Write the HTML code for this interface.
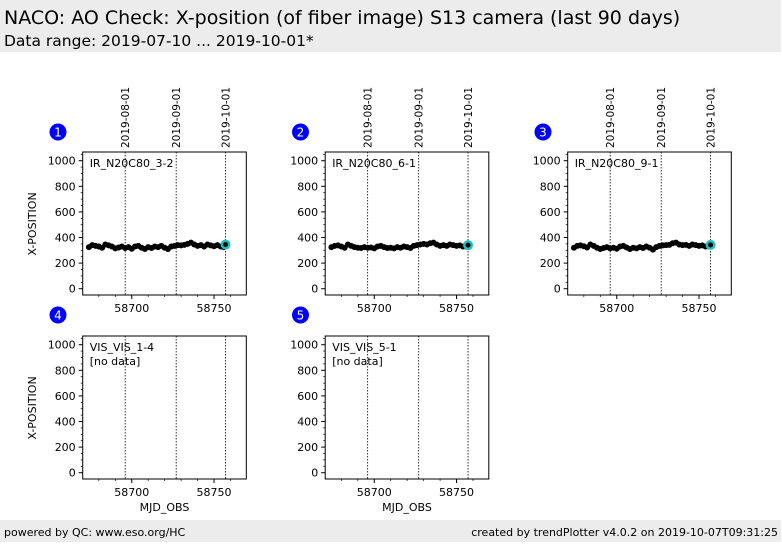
<!DOCTYPE html>
<html><head><meta charset="utf-8">
<style>
body{margin:0;background:#fff;width:782px;height:542px;overflow:hidden;font-family:"DejaVu Sans","Liberation Sans",sans-serif;}
svg text{font-family:"DejaVu Sans","Liberation Sans",sans-serif;}
</style></head>
<body>
<svg id="c" width="782" height="542">
<rect x="0" y="0" width="781" height="52" fill="#ececec"/>
<text x="4" y="24" font-size="19" fill="#000">NACO: AO Check: X-position (of fiber image) S13 camera (last 90 days)</text>
<text x="4" y="46" font-size="15.5" fill="#000">Data range: 2019-07-10 ... 2019-10-01*</text>
<rect x="0" y="520" width="781" height="22" fill="#ececec"/>
<text x="4" y="536" font-size="11">powered by QC: www.eso.org/HC</text>
<text x="778" y="536" font-size="11" text-anchor="end">created by trendPlotter v4.0.2 on 2019-10-07T09:31:25</text>
<g id="panels"></g>
</svg>
<script>
const xTicks=[58700,58750];
const yTicks=[0,200,400,600,800,1000];
const dateMarkers=[58696,58727,58757];
const dateLabels=["2019-08-01","2019-09-01","2019-10-01"];
const panelLabels=["IR_N20C80_3-2","IR_N20C80_6-1","IR_N20C80_9-1","VIS_VIS_1-4","VIS_VIS_5-1"];
const mjd=[58674,58676,58678,58680,58682,58684,58686,58688,58690,58692,58694,58696,58698,58700,58702,58704,58706,58708,58710,58712,58714,58716,58718,58720,58722,58724,58726,58728,58730,58732,58734,58736,58738,58740,58742,58744,58746,58748,58750,58752,58754,58756];
const series1=[325,340,335,330,320,345,338,330,315,322,330,318,325,312,330,335,320,310,325,318,330,325,335,320,310,330,335,340,338,342,350,360,345,335,340,330,345,338,332,340,330,325];
const series2=[325,335,338,330,320,345,335,325,320,318,325,320,322,315,330,335,325,318,320,315,325,320,330,325,318,335,340,345,350,345,355,360,345,335,340,335,345,340,335,338,330,328];
const series3=[320,335,338,332,322,345,335,320,310,318,325,315,320,312,330,335,322,310,320,315,325,318,330,320,305,325,335,338,340,342,355,360,345,340,342,335,345,340,335,338,330,330];
const lastMjd=[58757,58757,58757];
const lastVal=[345,340,342];
const allSeries=[series1,series2,series3,null,null];

const NS="http://www.w3.org/2000/svg";
const root=document.getElementById('panels');
function mk(tag,attrs,parent){const e=document.createElementNS(NS,tag);for(const k in attrs)e.setAttribute(k,attrs[k]);(parent||root).appendChild(e);return e;}
const offs=[[0,0],[242.5,0],[485,0],[0,184],[242.5,184]];
const L=82.7,R=246.3,T=152,B=295;
const xmin=58670.2,xmax=58769.6;
for(let p=0;p<5;p++){
  const ox=offs[p][0],oy=offs[p][1];
  const X=v=>ox+L+(v-xmin)/(xmax-xmin)*(R-L);
  const Y=v=>oy+288.7-v*0.128;
  const g=mk('g',{});
  
  
  // badge
  const bc=mk('circle',{cx:ox+58,cy:oy+(p<3?132:315)-(p<3?0:184)+ (p<3?0:184)-0,r:8.5,fill:'#0000ff'},g);
  bc.setAttribute('cy', p<3?132:315);
  
  
  const bt=mk('text',{x:ox+58,y:(p<3?132:315)+4.5,'font-size':12,fill:'#fff','text-anchor':'middle'},g);
  bt.textContent=String(p+1);
  
  
  // frame
  const fr=mk('rect',{x:ox+L,y:oy+T,width:R-L,height:B-T,fill:'#fff',stroke:'#000','stroke-width':1},g);
  
  
  // date markers
  dateMarkers.forEach((d,i)=>{
    const ln=mk('line',{x1:X(d),x2:X(d),y1:oy+T,y2:oy+B,stroke:'#000','stroke-width':0.8,'stroke-dasharray':'1.5,1.5'},g);
    
    
    if(p<3){
      const t=mk('text',{x:0,y:0,'font-size':10.5,transform:`translate(${X(d)+4},148) rotate(-90)`},g);
      t.textContent=dateLabels[i];
      
      
    }
  });
  // y ticks
  yTicks.forEach(v=>{
    mk('line',{x1:ox+L-4,x2:ox+L,y1:Y(v),y2:Y(v),stroke:'#000'},g);
    const t=mk('text',{x:ox+L-7,y:Y(v)+4,'font-size':11,'text-anchor':'end'},g);
    t.textContent=v;
    
    
  });
  for(let v=0;v<=1050;v+=50){if(v%200)mk('line',{x1:ox+L-2,x2:ox+L,y1:Y(v),y2:Y(v),stroke:'#000','stroke-width':0.7},g);}
  // x ticks
  xTicks.forEach(v=>{
    mk('line',{x1:X(v),x2:X(v),y1:oy+B,y2:oy+B+4,stroke:'#000'},g);
    const t=mk('text',{x:X(v),y:oy+B+17,'font-size':11,'text-anchor':'middle'},g);
    t.textContent=v;
    
    
  });
  for(let v=58680;v<=58760;v+=10){if(v%50)mk('line',{x1:X(v),x2:X(v),y1:oy+B,y2:oy+B+2,stroke:'#000','stroke-width':0.7},g);}
  // label
  const lb=mk('text',{x:ox+L+7,y:oy+T+15,'font-size':11},g);
  lb.textContent=panelLabels[p];
  
  
  if(p>=3){
    const nd=mk('text',{x:ox+L+7,y:oy+T+29,'font-size':11},g);
    nd.textContent='[no data]';
    
    
  }
  if(p===0||p===3){
    const ya=mk('text',{x:0,y:0,'font-size':11,'text-anchor':'middle',transform:`translate(36,${oy+224}) rotate(-90)`},g);
    ya.textContent='X-POSITION';
    
    
  }
  if(p>=3){
    const xa=mk('text',{x:ox+(L+R)/2,y:oy+B+32,'font-size':11,'text-anchor':'middle'},g);
    xa.textContent='MJD_OBS';
    
    
  }
  const s=allSeries[p];
  if(s){
    let d='';
    s.forEach((v,i)=>{d+=(i?'L':'M')+X(mjd[i]).toFixed(1)+','+Y(v).toFixed(1);});
    const pl=mk('path',{d:d,fill:'none',stroke:'#000','stroke-width':2},g);
    
    
    s.forEach((v,i)=>{
      const c=mk('circle',{cx:X(mjd[i]),cy:Y(v),r:3,fill:'#000'},g);
      
      
    });
    const hl=mk('circle',{cx:X(lastMjd[p]),cy:Y(lastVal[p]),r:5,fill:'#20c0c0'},g);
    
    
    const hd=mk('circle',{cx:X(lastMjd[p]),cy:Y(lastVal[p]),r:2.5,fill:'#000'},g);
    
    
  }
}
</script>
</body></html>
